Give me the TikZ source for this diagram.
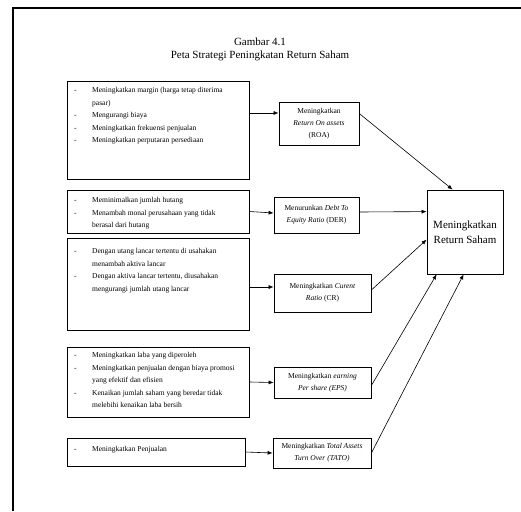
\documentclass[tikz,border=0pt]{standalone}
\usepackage{fontspec}
\setmainfont{Liberation Serif}
\usetikzlibrary{arrows.meta,calc}
\begin{document}
\begin{tikzpicture}[x=1pt,y=-1pt,
  box/.style={draw=black, line width=0.8pt, inner sep=0pt, anchor=center},
  ltext/.style={inner sep=0pt, anchor=base west, font=\fontsize{7.5}{12.5}\selectfont},
  mtext/.style={font=\fontsize{7.5}{12}\selectfont, align=center},
  arr/.style={line width=0.6pt, -{Latex[length=5pt,width=4pt]}}]
\useasboundingbox (0,0) rectangle (521,511);
% outer frame
\coordinate (fl) at (13,511);
\coordinate (fc) at (13,8);
\coordinate (fr) at (521,8);
\draw[line width=1.6pt] (fl) -- (fc) -- (fr);
% title
\node[font=\fontsize{11}{13}\selectfont, align=center] (title) at (260,49.5) {Gambar 4.1\\Peta Strategi Peningkatan Return Saham};
% left boxes
\node[box, minimum width=182pt, minimum height=98pt] (b1) at (158,130) {};
\node[box, minimum width=182pt, minimum height=43pt] (b2) at (158,211.5) {};
\node[box, minimum width=182pt, minimum height=92pt] (b3) at (158,284) {};
\node[box, minimum width=182pt, minimum height=70pt] (b4) at (158,382) {};
\node[box, minimum width=178pt, minimum height=28pt] (b5) at (156,452) {};
% left texts
\node[ltext] (t1) at (74,92.5) {\begin{tabular}[t]{@{}p{18pt}@{}l@{}}
- & Meningkatkan margin (harga tetap diterima\\
  & pasar)\\
- & Mengurangi biaya\\
- & Meningkatkan frekuensi penjualan\\
- & Meningkatkan perputaran persediaan
\end{tabular}};
\node[ltext] (t2) at (74,202.5) {\begin{tabular}[t]{@{}p{18pt}@{}l@{}}
- & Meminimalkan jumlah hutang\\
- & Menambah monal perusahaan yang tidak\\
  & berasal dari hutang
\end{tabular}};
\node[ltext] (t3) at (74,253.5) {\begin{tabular}[t]{@{}p{18pt}@{}l@{}}
- & Dengan utang lancar tertentu di usahakan\\
  & menambah aktiva lancar\\
- & Dengan aktiva lancar tertentu, diusahakan\\
  & mengurangi jumlah utang lancar
\end{tabular}};
\node[ltext] (t4) at (74,357.5) {\begin{tabular}[t]{@{}p{18pt}@{}l@{}}
- & Meningkatkan laba yang diperoleh\\
- & Meningkatkan penjualan dengan biaya promosi\\
  & yang efektif dan efisien\\
- & Kenaikan jumlah saham yang beredar tidak\\
  & melebihi kenaikan laba bersih
\end{tabular}};
\node[ltext] (t5) at (74,451.5) {\begin{tabular}[t]{@{}p{18pt}@{}l@{}}
- & Meningkatkan Penjualan
\end{tabular}};
% middle boxes
\node[box, mtext, minimum width=80pt, minimum height=43pt] (roa) at (319,123.5) {Meningkatkan\\\textit{Return On assets}\\(ROA)};
\node[box, mtext, minimum width=85pt, minimum height=36pt] (der) at (316.5,215) {Menurunkan \textit{Debt To}\\\textit{Equity Ratio} (DER)};
\node[box, mtext, minimum width=97pt, minimum height=38pt] (cr) at (322.5,293) {Meningkatkan \textit{Curent}\\\textit{Ratio} (CR)};
\node[box, mtext, minimum width=97pt, minimum height=31pt] (eps) at (322.5,382.5) {Meningkatkan \textit{earning}\\\textit{Per share (EPS)}};
\node[box, mtext, minimum width=98pt, minimum height=30pt] (tato) at (322,453) {Meningkatkan \textit{Total Assets}\\\textit{Turn Over (TATO)}};
% right box
\node[box, font=\fontsize{11}{15}\selectfont, align=center, minimum width=76pt, minimum height=84pt] (rs) at (465,232) {Meningkatkan\\Return Saham};
% arrows left -> middle
\draw[arr] ([yshift=17pt]b1.east) -- ([yshift=10.5pt]roa.west);
\draw[arr] (b2.east) -- ([yshift=2pt]der.west);
\draw[arr] ([yshift=-3pt]b3.east) -- ([yshift=6pt]cr.west);
\draw[arr] (b4.east) -- (eps.west);
\draw[arr] (b5.east) -- (tato.west);
% arrows middle -> right
\draw[arr] ([yshift=-12pt]roa.north east) -- ([xshift=26pt]rs.north west);
\draw[arr] ([yshift=3pt]der.east) -- ([yshift=-22pt]rs.north west);
\draw[arr] ([yshift=3pt]cr.east) -- ([yshift=-50pt]rs.north west);
\draw[arr] ([yshift=-3pt]eps.east) -- ([xshift=10pt]rs.south west);
\draw[arr] (tato.east) -- ([xshift=37pt]rs.south west);
\end{tikzpicture}
\end{document}
